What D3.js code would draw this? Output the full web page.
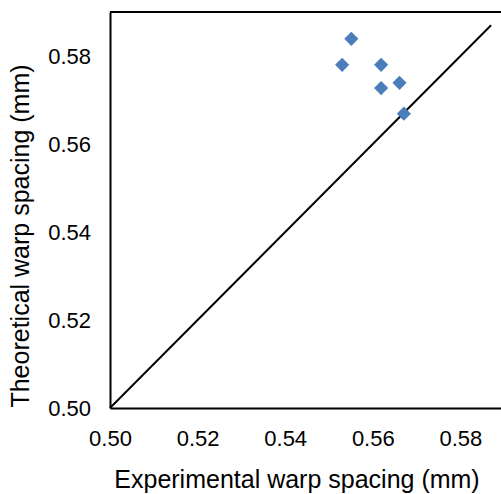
<!DOCTYPE html>
<html>
<head>
<meta charset="utf-8">
<script src="https://cdn.jsdelivr.net/npm/d3@7"></script>
<style>
  body { margin: 0; background: #fff; }
  svg text { font-family: "Liberation Sans", Arial, sans-serif; fill: #000; }
</style>
</head>
<body>
<div id="graph"></div>
<script>
// data
var experimental = [0.5551, 0.5530, 0.5619, 0.5619, 0.5661, 0.5671];
var theoretical = [0.5839, 0.5780, 0.5780, 0.5727, 0.5739, 0.5669];
var xTicks = [0.50, 0.52, 0.54, 0.56, 0.58];
var yTicks = [0.50, 0.52, 0.54, 0.56, 0.58];
var diagonal = [0.50, 0.587];

const fullWidth = 501;
const fullHeight = 494;
const margin = { top: 12, right: 0, bottom: 86, left: 110 };

var x = d3.scaleLinear()
  .domain([0.50, 0.5895])
  .range([margin.left, 502]);

var y = d3.scaleLinear()
  .domain([0.50, 0.59])
  .range([408, margin.top]);

var svg = d3.select("#graph")
  .append("svg")
  .attr("width", fullWidth)
  .attr("height", fullHeight);

// axes (no tick marks, just the lines and labels)
var xAxis = d3.axisBottom(x)
  .tickValues(xTicks)
  .tickSize(0)
  .tickPadding(22)
  .tickFormat(d3.format(".2f"));

var yAxis = d3.axisLeft(y)
  .tickValues(yTicks)
  .tickSize(0)
  .tickPadding(19)
  .tickFormat(d3.format(".2f"));

var gx = svg.append("g")
  .attr("transform", "translate(0," + y(0.50) + ")")
  .call(xAxis);
var gy = svg.append("g")
  .attr("transform", "translate(" + x(0.50) + ",0)")
  .call(yAxis);

[gx, gy].forEach(function (g) {
  g.selectAll(".domain").attr("stroke", "#000").attr("stroke-width", 2);
  g.selectAll("text").style("font-size", "22px").attr("fill", "#000");
});

// top border line
svg.append("line")
  .attr("x1", x(0.50)).attr("x2", fullWidth)
  .attr("y1", y(0.59)).attr("y2", y(0.59))
  .attr("stroke", "#000").attr("stroke-width", 2);

// 1:1 line
svg.append("line")
  .attr("x1", x(diagonal[0])).attr("y1", y(diagonal[0]))
  .attr("x2", x(diagonal[1])).attr("y2", y(diagonal[1]))
  .attr("stroke", "#000").attr("stroke-width", 2);

// points
var data = experimental.map(function (d, i) { return { x: d, y: theoretical[i] }; });
svg.append("g").selectAll("path")
  .data(data)
  .enter().append("path")
  .attr("d", d3.symbol().type(d3.symbolDiamond2).size(128))
  .attr("transform", function (d) { return "translate(" + x(d.x) + "," + y(d.y) + ")"; })
  .attr("fill", "#4a7ebb");

// axis titles
svg.append("text")
  .attr("x", 297)
  .attr("y", 488)
  .attr("text-anchor", "middle")
  .style("font-size", "25px")
  .text("Experimental warp spacing (mm)");

svg.append("text")
  .attr("transform", "translate(29,236) rotate(-90)")
  .attr("text-anchor", "middle")
  .style("font-size", "25px")
  .text("Theoretical warp spacing (mm)");
</script>
</body>
</html>
